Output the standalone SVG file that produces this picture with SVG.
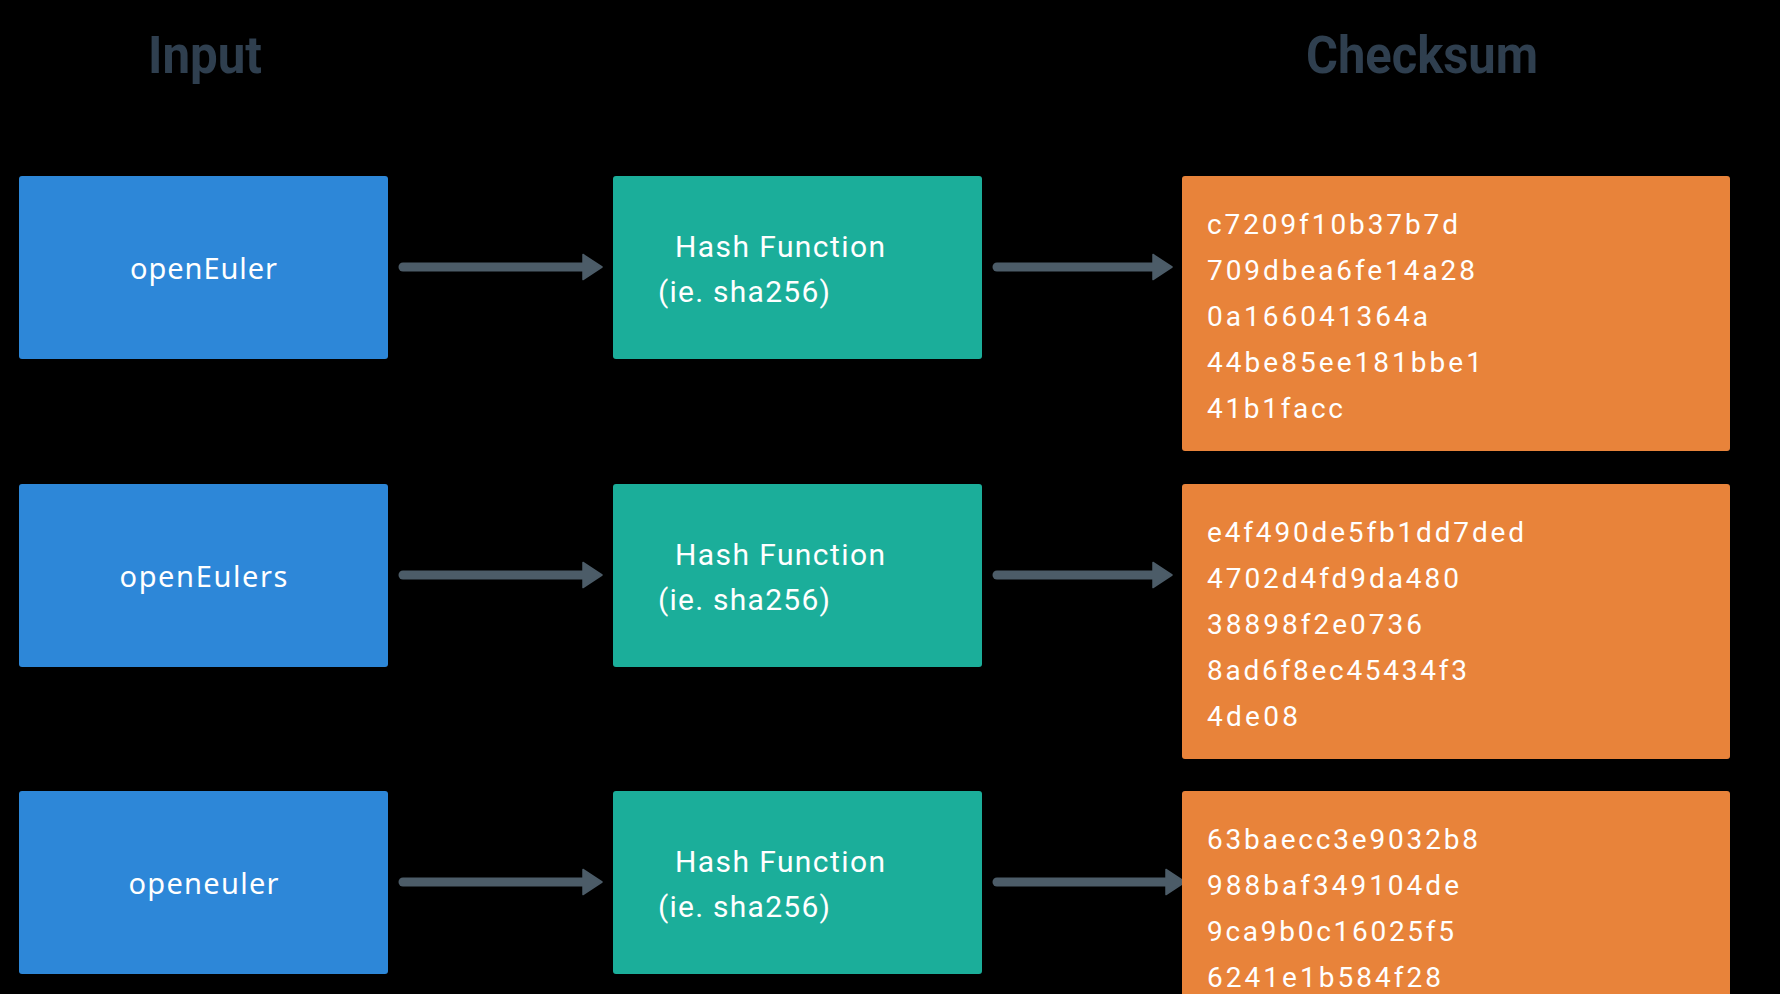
<svg xmlns="http://www.w3.org/2000/svg" width="1780" height="994" viewBox="0 0 1780 994">
  <style>
    .title { font-family: Roboto, "Liberation Sans", sans-serif; font-weight: bold; font-size: 51px; fill: #2f3f4f; }
    .in { fill: #2d87d8; }
    .hash { fill: #1bae9a; }
    .sum { fill: #e8833a; }
    .lbl { font-family: "Noto Sans", "Liberation Sans", sans-serif; font-size: 29px; fill: #ffffff; }
    .htxt { font-family: Roboto, "Liberation Sans", sans-serif; font-size: 30px; fill: #ffffff; }
    .hex { font-family: Roboto, "Liberation Sans", sans-serif; font-size: 28px; fill: #ffffff; }
    .conn { stroke: #4c5c68; stroke-width: 9; stroke-linecap: round; fill: none; marker-end: url(#ah); }
  </style>
  <defs>
    <marker id="ah" markerUnits="userSpaceOnUse" markerWidth="22" markerHeight="28" refX="8" refY="14" orient="auto">
      <path d="M1,1.5 L20,14 L1,26.5 Z" fill="#4c5c68" stroke="#4c5c68" stroke-width="1.5" stroke-linejoin="round"/>
    </marker>
  </defs>
  <rect width="1780" height="994" fill="#000000"/>

  <g id="titles">
    <text class="title" x="205" y="73" text-anchor="middle" textLength="114" lengthAdjust="spacingAndGlyphs">Input</text>
    <text class="title" x="1422" y="73" text-anchor="middle" textLength="232" lengthAdjust="spacingAndGlyphs">Checksum</text>
  </g>

  <g id="connectors">
    <line class="conn" x1="403" y1="267" x2="590" y2="267"/>
    <line class="conn" x1="997" y1="267" x2="1160" y2="267"/>
    <line class="conn" x1="403" y1="575" x2="590" y2="575"/>
    <line class="conn" x1="997" y1="575" x2="1160" y2="575"/>
    <line class="conn" x1="403" y1="882" x2="590" y2="882"/>
    <line class="conn" x1="997" y1="882" x2="1173" y2="882"/>
  </g>

  <!-- Row 1 -->
  <g id="input1">
    <rect class="in" x="19" y="176" width="369" height="183" rx="3"/>
    <text class="lbl" x="203.5" y="279" text-anchor="middle" textLength="147" lengthAdjust="spacing">openEuler</text>
  </g>
  <g id="hash1">
    <rect class="hash" x="613" y="176" width="369" height="183" rx="3"/>
    <text class="htxt" x="675" y="257" textLength="210" lengthAdjust="spacing">Hash Function</text>
    <text class="htxt" x="658" y="302" textLength="172" lengthAdjust="spacing">(ie. sha256)</text>
  </g>
  <g id="sum1">
    <rect class="sum" x="1182" y="176" width="548" height="275" rx="3"/>
    <text class="hex" x="1207" y="234" textLength="251" lengthAdjust="spacing">c7209f10b37b7d</text>
    <text class="hex" x="1207" y="280" textLength="268" lengthAdjust="spacing">709dbea6fe14a28</text>
    <text class="hex" x="1207" y="326" textLength="221" lengthAdjust="spacing">0a166041364a</text>
    <text class="hex" x="1207" y="372" textLength="275" lengthAdjust="spacing">44be85ee181bbe1</text>
    <text class="hex" x="1207" y="418" textLength="136" lengthAdjust="spacing">41b1facc</text>
  </g>

  <!-- Row 2 -->
  <g id="input2">
    <rect class="in" x="19" y="484" width="369" height="183" rx="3"/>
    <text class="lbl" x="203.5" y="587" text-anchor="middle" textLength="168" lengthAdjust="spacing">openEulers</text>
  </g>
  <g id="hash2">
    <rect class="hash" x="613" y="484" width="369" height="183" rx="3"/>
    <text class="htxt" x="675" y="565" textLength="210" lengthAdjust="spacing">Hash Function</text>
    <text class="htxt" x="658" y="610" textLength="172" lengthAdjust="spacing">(ie. sha256)</text>
  </g>
  <g id="sum2">
    <rect class="sum" x="1182" y="484" width="548" height="275" rx="3"/>
    <text class="hex" x="1207" y="542" textLength="317" lengthAdjust="spacing">e4f490de5fb1dd7ded</text>
    <text class="hex" x="1207" y="588" textLength="252" lengthAdjust="spacing">4702d4fd9da480</text>
    <text class="hex" x="1207" y="634" textLength="215" lengthAdjust="spacing">38898f2e0736</text>
    <text class="hex" x="1207" y="680" textLength="260" lengthAdjust="spacing">8ad6f8ec45434f3</text>
    <text class="hex" x="1207" y="726" textLength="91" lengthAdjust="spacing">4de08</text>
  </g>

  <!-- Row 3 -->
  <g id="input3">
    <rect class="in" x="19" y="791" width="369" height="183" rx="3"/>
    <text class="lbl" x="203.5" y="894" text-anchor="middle" textLength="150" lengthAdjust="spacing">openeuler</text>
  </g>
  <g id="hash3">
    <rect class="hash" x="613" y="791" width="369" height="183" rx="3"/>
    <text class="htxt" x="675" y="872" textLength="210" lengthAdjust="spacing">Hash Function</text>
    <text class="htxt" x="658" y="917" textLength="172" lengthAdjust="spacing">(ie. sha256)</text>
  </g>
  <g id="sum3">
    <rect class="sum" x="1182" y="791" width="548" height="220" rx="3"/>
    <text class="hex" x="1207" y="849" textLength="271" lengthAdjust="spacing">63baecc3e9032b8</text>
    <text class="hex" x="1207" y="895" textLength="252" lengthAdjust="spacing">988baf349104de</text>
    <text class="hex" x="1207" y="941" textLength="247" lengthAdjust="spacing">9ca9b0c16025f5</text>
    <text class="hex" x="1207" y="987" textLength="234" lengthAdjust="spacing">6241e1b584f28</text>
  </g>
</svg>
